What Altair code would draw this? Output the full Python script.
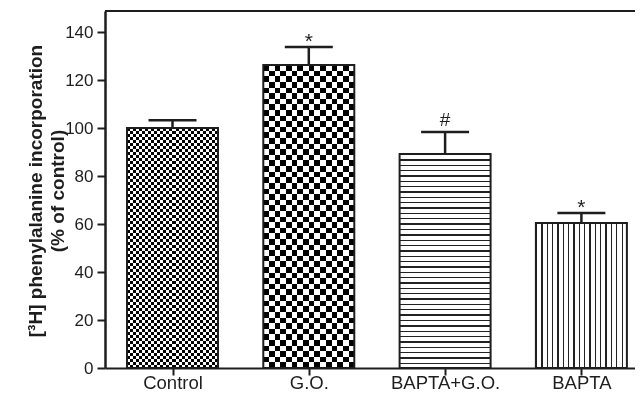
import json
import altair as alt
import pandas as pd

# ---- data ----
categories = ["Control", "G.O.", "BAPTA+G.O.", "BAPTA"]
means = [100.0, 126.2, 89.2, 60.4]
errors = [3.2, 7.5, 9.1, 4.2]
symbols = ["", "*", "#", "*"]
y_ticks = [0, 20, 40, 60, 80, 100, 120, 140]
y_title = ["[³H] phenylalanine incorporation", "(% of control)"]

YMAX = 148.75
W, H = 530, 357
PX = H / YMAX
STEP = 136.3          # px between bar centres
BAR_HALF = 45.5 / STEP
CAP_HALF = 24.0 / STEP
X0 = -67.5 / STEP
X1 = X0 + W / STEP
FONT = "Liberation Sans"
INK = "#1e1e1e"

df = pd.DataFrame({"group": categories, "mean": means, "err": errors, "sig": symbols})
df["pos"] = list(range(len(categories)))
df["left"] = df["pos"] - BAR_HALF
df["right"] = df["pos"] + BAR_HALF
df["capl"] = df["pos"] - CAP_HALF
df["capr"] = df["pos"] + CAP_HALF
df["upper"] = df["mean"] + df["err"]


def stripes(n, duty, horizontal, dark="#000000", light="#ffffff"):
    stops = []
    for k in range(n):
        a, b, c = k / n, (k + duty) / n, (k + 1) / n
        stops += [
            {"offset": a, "color": dark},
            {"offset": b, "color": dark},
            {"offset": b, "color": light},
            {"offset": c, "color": light},
        ]
    g = {"gradient": "linear", "stops": stops, "x1": 0, "y1": 0}
    if horizontal:
        g.update({"x2": 0, "y2": 1})
    else:
        g.update({"x2": 1, "y2": 0})
    return g


label_expr = json.dumps(categories) + "[datum.value]"


def X(field):
    return alt.X(
        field,
        type="quantitative",
        title=None,
        scale=alt.Scale(domain=[X0, X1], nice=False, zero=False),
        axis=alt.Axis(
            values=list(range(len(categories))), labelExpr=label_expr,
            labelAngle=0, labelFont=FONT, labelFontSize=18.5, labelColor=INK,
            labelPadding=-2, tickSize=7, tickWidth=2, tickColor=INK,
            domainWidth=2, domainColor=INK, grid=False,
        ),
    )


def Y(field):
    return alt.Y(
        field,
        type="quantitative",
        title=y_title,
        scale=alt.Scale(domain=[0, YMAX], nice=False, zero=True),
        axis=alt.Axis(
            values=y_ticks, grid=False, labelFont=FONT, labelFontSize=17,
            labelColor=INK, labelPadding=4, tickSize=8, tickWidth=2,
            tickColor=INK, domainWidth=2.5, domainColor=INK,
            titleFont=FONT, titleFontSize=19, titleFontWeight="bold",
            titleColor=INK, titleLineHeight=22, titleAngle=270,
            titleX=-70, titleY=H / 2 + 1, titleAlign="center", titleBaseline="middle",
        ),
    )


bars = alt.Chart(df).encode(x=X("left"), x2="right:Q", y=Y("mean"), y2=alt.datum(0))
base = alt.Chart(df).encode(x=X("pos"))


def only(name):
    return bars.transform_filter(alt.datum.group == name)


layers = []
# Control: fine checkerboard
n_h = round(means[0] * PX / 6.0)
layers.append(only("Control").mark_rect(fill=stripes(15, 0.5, False)))
layers.append(only("Control").mark_rect(fill=stripes(n_h, 0.5, True), blend="difference"))
# G.O.: coarse checkerboard
n_h = round(means[1] * PX / 11.25)
layers.append(only("G.O.").mark_rect(fill=stripes(8, 0.5, False)))
layers.append(only("G.O.").mark_rect(fill=stripes(n_h, 0.5, True), blend="difference"))
# BAPTA+G.O.: horizontal lines
n_h = round(means[2] * PX / 5.3)
layers.append(only("BAPTA+G.O.").mark_rect(fill=stripes(n_h, 0.25, True, dark="#222222")))
# BAPTA: vertical lines
layers.append(only("BAPTA").mark_rect(fill=stripes(17, 0.24, False, dark="#222222")))

# outlines
layers.append(bars.mark_rect(fillOpacity=0, stroke=INK, strokeWidth=2))

# error bars (upper only)
layers.append(base.mark_rule(color=INK, strokeWidth=2.5).encode(y=Y("mean"), y2="upper:Q"))
layers.append(
    alt.Chart(df).mark_rule(color=INK, strokeWidth=2.5).encode(
        x=X("capl"), x2="capr:Q", y=Y("upper")
    )
)

# significance marks
layers.append(
    base.transform_filter(alt.datum.sig == "*")
    .mark_text(font=FONT, fontSize=21, color=INK, baseline="alphabetic", dy=1)
    .encode(y=Y("upper"), text="sig:N")
)
layers.append(
    base.transform_filter(alt.datum.sig == "#")
    .mark_text(font=FONT, fontSize=19, color=INK, baseline="alphabetic", dy=-6)
    .encode(y=Y("upper"), text="sig:N")
)

# top frame line
top = alt.Chart(pd.DataFrame({"v": [YMAX]})).mark_rule(color=INK, strokeWidth=2).encode(
    y=Y("v"), x=alt.value(0), x2=alt.value(W)
)
layers.append(top)

chart = (
    alt.layer(*layers)
    .properties(
        width=W,
        height=H,
        padding={"left": 97, "top": 3, "right": 0, "bottom": 26},
        autosize=alt.AutoSizeParams(type="none"),
        background="white",
    )
    .configure_view(strokeWidth=0)
)

chart.save("out.html", embed_options={"renderer": "svg", "actions": False})
